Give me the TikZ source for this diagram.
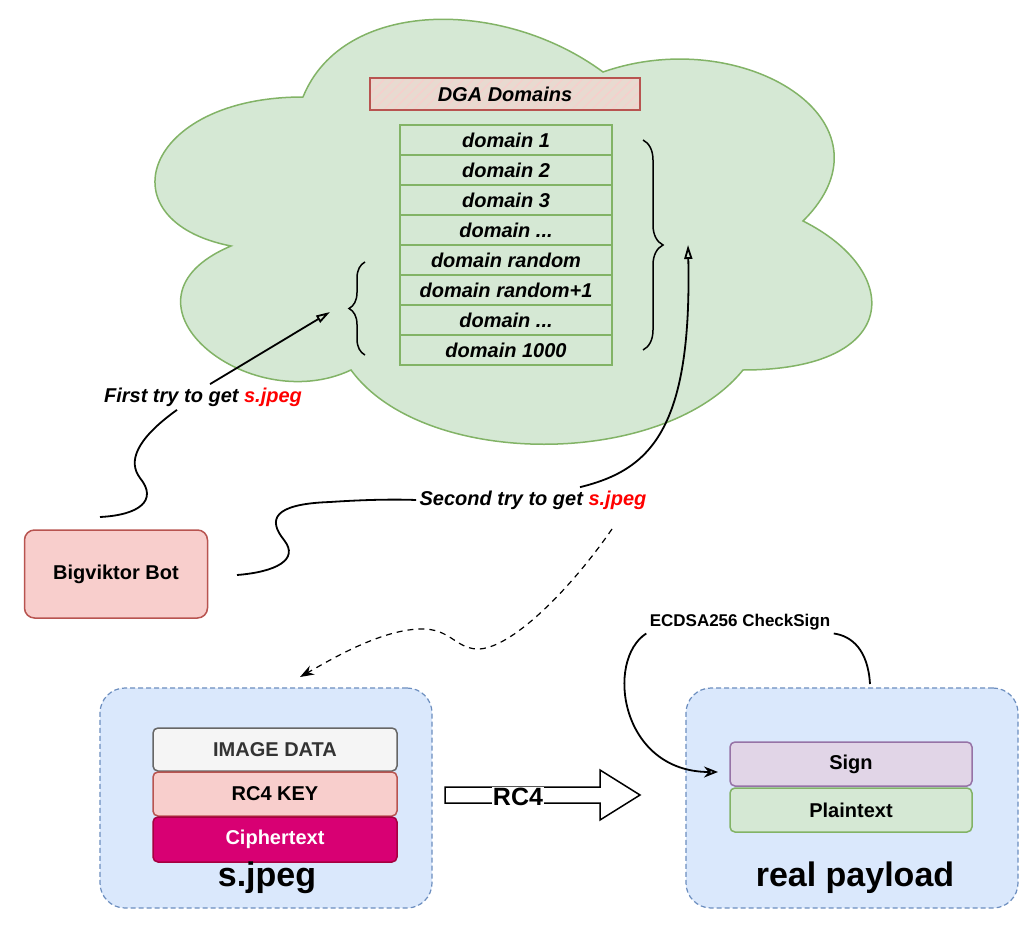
\documentclass[tikz,border=0pt]{standalone}
\usepackage{fontspec}
\setmainfont{Liberation Sans}
\usetikzlibrary{arrows.meta,decorations.pathreplacing,patterns.meta}

\definecolor{cloudfill}{HTML}{D5E8D4}
\definecolor{cloudline}{HTML}{82B366}
\definecolor{redfill}{HTML}{F8CECC}
\definecolor{redline}{HTML}{B85450}
\definecolor{bluefill}{HTML}{DAE8FC}
\definecolor{blueline}{HTML}{6C8EBF}
\definecolor{greyfill}{HTML}{F5F5F5}
\definecolor{greyline}{HTML}{666666}
\definecolor{greytext}{HTML}{333333}
\definecolor{pinkfill}{HTML}{D80073}
\definecolor{pinkline}{HTML}{A50040}
\definecolor{purplefill}{HTML}{E1D5E7}
\definecolor{purpleline}{HTML}{9673A6}
\definecolor{jpegred}{HTML}{FF0000}

\tikzset{
  domainbox/.style={draw=cloudline,fill=cloudfill,line width=1.5pt,minimum width=212pt,minimum height=30pt,inner sep=0pt,font=\fontsize{20}{24}\selectfont\bfseries\itshape},
  layerbox/.style={draw,line width=1.5pt,rounded corners=5pt,minimum width=244pt,minimum height=44pt,inner sep=0pt},
  holder/.style={draw=blueline,fill=bluefill,line width=1.2pt,dash pattern=on 5pt off 3pt,rounded corners=25pt,minimum width=332pt,minimum height=220pt},
  trytext/.style={font=\fontsize{20}{24}\selectfont\bfseries\itshape},
  tryline/.style={line width=1.8pt},
  bigtext/.style={font=\fontsize{34}{40}\selectfont\bfseries}
}

\begin{document}
\begin{tikzpicture}[y=-1pt,x=1pt,font=\fontsize{20}{24}\selectfont\bfseries]
    \useasboundingbox (0,0) rectangle (1036,939);

    \filldraw[fill=cloudfill,draw=cloudline,line width=1.5pt] (303,97)
        .. controls (143,97) and (103,221) .. (231,246)
        .. controls (103,300) and (247,419) .. (351,370)
        .. controls (423,469) and (663,469) .. (743,370)
        .. controls (903,370) and (903,271) .. (803,221)
        .. controls (903,122) and (743,23) .. (603,72)
        .. controls (503,-2) and (343,-2) .. (303,97) -- cycle;

    \node[draw=redline,preaction={fill=redfill!55!cloudfill},line width=1.5pt,minimum width=270pt,minimum height=32pt,inner sep=0pt,
        pattern={Lines[angle=45,distance=7pt,line width=1.2pt]},pattern color=redfill,
        font=\fontsize{20}{24}\selectfont\bfseries\itshape] (dga) at (505,94) {DGA Domains};

    \node[domainbox] (dom1) at (506,140) {domain 1};
    \node[domainbox] (dom2) at (506,170) {domain 2};
    \node[domainbox] (dom3) at (506,200) {domain 3};
    \node[domainbox] (dom4) at (506,230) {domain ...};
    \node[domainbox] (dom5) at (506,260) {domain random};
    \node[domainbox] (dom6) at (506,290) {domain random+1};
    \node[domainbox] (dom7) at (506,320) {domain ...};
    \node[domainbox] (dom8) at (506,350) {domain 1000};

    \draw[decorate,decoration={brace,amplitude=20pt},line width=1.5pt] (643,140) -- (643,350);
    \draw[decorate,decoration={brace,amplitude=16pt},line width=1.5pt] (365,355) -- (365,262);

    \node[draw=redline,fill=redfill,line width=1.5pt,rounded corners=10pt,minimum width=183pt,minimum height=88pt] (bot) at (116,574) {Bigviktor Bot};

    \node[trytext] (firsttry) at (203,397) {First try to get \textcolor{jpegred}{s.jpeg}};
    \coordinate (t1start) at (100,517);
    \coordinate (t1end) at (330,312);
    \draw[tryline] (t1start) .. controls (140,515) and (158,500) .. (140,478)
        .. controls (128,462) and (135,440) .. ([xshift=-26pt]firsttry.south);
    \draw[tryline,-{Triangle[open,length=14pt,width=8pt]}] ([xshift=7pt]firsttry.north) -- (t1end);

    \node[trytext] (secondtry) at (533,500) {Second try to get \textcolor{jpegred}{s.jpeg}};
    \coordinate (t2start) at (237,575);
    \coordinate (t2end) at (688,245);
    \draw[tryline] (t2start) .. controls (275,572) and (300,560) .. (284,540)
        .. controls (268,520) and (272,504) .. (330,502)
        .. controls (360,500) and (390,499) .. (secondtry.west);
    \draw[tryline,-{Triangle[open,length=14pt,width=8pt]}] ([xshift=47pt]secondtry.north) .. controls (650,470) and (692,430) .. (t2end);

    \coordinate (dstart) at (612,529);
    \coordinate (dend) at (300,677);
    \draw[line width=1.2pt,dash pattern=on 6pt off 5pt,-{Stealth[length=14pt,width=10pt]}] (dstart)
        .. controls (570,590) and (510,650) .. (477,649)
        .. controls (455,648) and (450,628) .. (420,629)
        .. controls (380,630) and (330,660) .. (dend);

    \node[holder] (jpeg) at (266,798) {};
    \node[layerbox,draw=greyline,fill=greyfill,text=greytext,minimum height=43pt] (imgdata) at (275,749.5) {IMAGE DATA};
    \node[layerbox,draw=redline,fill=redfill] (rc4key) at (275,794) {RC4 KEY};
    \node[layerbox,draw=pinkline,fill=pinkfill,text=white,minimum height=45pt] (cipher) at (275,839.5) {Ciphertext};
    \node[bigtext] (jpeglabel) at (267,878) {s.jpeg};

    \draw[line width=1.5pt,fill=white] (445,787) -- (600,787) -- (600,770) -- (640,795)
        -- (600,820) -- (600,803) -- (445,803) -- cycle;
    \node[fill=white,inner sep=1pt,font=\fontsize{25}{30}\selectfont\bfseries] (rc4) at (518,797) {RC4};

    \node[holder] (payload) at (852,798) {};
    \node[layerbox,draw=purpleline,fill=purplefill,minimum width=242pt] (sign) at (851,764) {Sign};
    \node[layerbox,draw=cloudline,fill=cloudfill,minimum width=242pt] (plain) at (851,810) {Plaintext};
    \node[bigtext] (payloadlabel) at (855,878) {real payload};

    \node[font=\fontsize{17}{20}\selectfont\bfseries] (checksign) at (740,622) {ECDSA256 CheckSign};
    \coordinate (ckstart) at (870,684);
    \coordinate (ckend) at (718,772);
    \draw[tryline] (ckstart) .. controls (868,650) and (852,636) .. (checksign.south east);
    \draw[tryline,-{Stealth[open,length=14pt,width=11pt]}] (checksign.south west) .. controls (605,660) and (620,772) .. (ckend);
\end{tikzpicture}
\end{document}
